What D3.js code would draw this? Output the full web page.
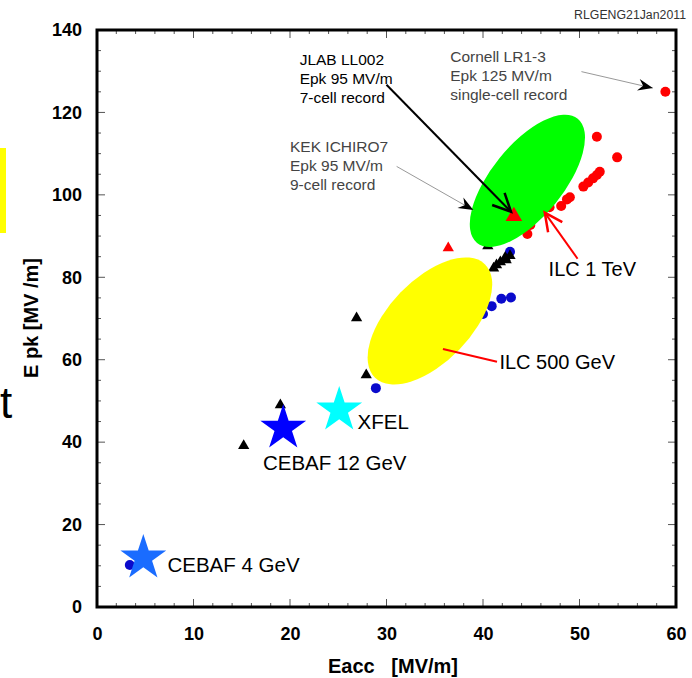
<!DOCTYPE html>
<html>
<head>
<meta charset="utf-8">
<script src="https://cdn.jsdelivr.net/npm/d3@7"></script>
<style>
body { margin: 0; background: #fff; }
text { font-family: "Liberation Sans", Arial, sans-serif; }
</style>
</head>
<body>
<script>
// Data (Eacc, Epk in MV/m)
var redDots = [[58.9, 125], [51.8, 114.1], [53.9, 109.1], [52.1, 105.6], [51.8, 104.8], [51.4, 104],
	[50.9, 103], [50.4, 102], [49.0, 99.4], [48.7, 98.9], [48.1, 97.3], [46.9, 97.0], [44.9, 92.7], [44.6, 90.5]];
var blueDots = [[42.8, 86.2], [42.9, 75.1], [41.9, 74.8], [40.9, 73.0], [40.0, 71.1], [39.0, 69.2],
	[28.9, 53.1], [3.4, 10.2]];
var blackTriangles = [[15.2, 39.1], [19.0, 49.0], [26.9, 70.1], [27.9, 56.3], [40.5, 87.6],
	[41.1, 82.2], [41.4, 83.0], [41.8, 83.7], [42.4, 84.2], [42.3, 84.8], [42.8, 85.2]];
var redTriangles = [[36.4, 87.1]];
var recordTriangle = [[43.2, 94.8]];
var stars = [
	{name: "CEBAF 4 GeV", e: 4.8, epk: 11.9, color: "#1a6cff"},
	{name: "CEBAF 12 GeV", e: 19.3, epk: 43.4, color: "#0000ff"},
	{name: "XFEL", e: 25.1, epk: 47.8, color: "#00ffff"}
];
var targets = [
	{name: "ILC 500 GeV", e: 34.5, epk: 69.4, color: "#ffff00"},
	{name: "ILC 1 TeV", e: 44.6, epk: 103.4, color: "#00ff00"}
];
var xTicks = [0, 10, 20, 30, 40, 50, 60];
var yTicks = [0, 20, 40, 60, 80, 100, 120, 140];

var w = 692, h = 678;

var svg = d3.select("body").
append("svg").
attr("width", w).
attr("height", h);

var x = d3.scaleLinear().domain([0, 60]).range([97, 676]);
var y = d3.scaleLinear().domain([0, 140]).range([607, 30]);

// stray bits at the left edge of the slide
svg.append("rect").attr("x", 0).attr("y", 148).attr("width", 6).attr("height", 85).attr("fill", "#ffff00");
svg.append("text").attr("x", 0).attr("y", 418).text("t").style("font-size", "44px");

svg.append("text").
attr("x", 686).
attr("y", 19).
attr("text-anchor", "end").
attr("fill", "#333").
style("font-size", "12.3px").
text("RLGENG21Jan2011");

// Inward ticks on all four sides
var xMinor = d3.range(0, 60.01, 2);
var yMinor = d3.range(0, 140.01, 5);

var ticks = svg.append("g").attr("stroke", "#555").attr("stroke-width", 1);
xMinor.forEach(function (v) {
	var len = v % 10 === 0 ? 8 : 4;
	ticks.append("line").attr("x1", x(v)).attr("x2", x(v)).attr("y1", y(0)).attr("y2", y(0) - len);
	ticks.append("line").attr("x1", x(v)).attr("x2", x(v)).attr("y1", y(140)).attr("y2", y(140) + len);
});
yMinor.forEach(function (v) {
	var len = v % 20 === 0 ? 8 : 4;
	ticks.append("line").attr("x1", x(0)).attr("x2", x(0) + len).attr("y1", y(v)).attr("y2", y(v));
	ticks.append("line").attr("x1", x(60)).attr("x2", x(60) - len).attr("y1", y(v)).attr("y2", y(v));
});

var xAxis = d3.axisBottom(x).tickValues(xTicks).tickSize(0).tickPadding(20);
var yAxis = d3.axisLeft(y).tickValues(yTicks).tickSize(0).tickPadding(15);

svg.append("g").
attr("id", "x-axis").
attr("transform", "translate(0," + y(0) + ")").
call(xAxis).
call(function (g) {g.select(".domain").remove();}).
selectAll("text").
style("font-size", "18px").
style("font-weight", "bold").
style("font-family", "Liberation Sans, Arial, sans-serif").
attr("fill", "#000");

svg.append("g").
attr("id", "y-axis").
attr("transform", "translate(" + x(0) + ",0)").
call(yAxis).
call(function (g) {g.select(".domain").remove();}).
selectAll("text").
style("font-size", "18px").
style("font-weight", "bold").
style("font-family", "Liberation Sans, Arial, sans-serif").
attr("fill", "#000");

svg.append("rect").
attr("x", x(0)).
attr("y", y(140)).
attr("width", x(60) - x(0)).
attr("height", y(0) - y(140)).
attr("fill", "none").
attr("stroke", "#000").
attr("stroke-width", 3);

// Axis titles
svg.append("text").
attr("x", 393).
attr("y", 673).
attr("text-anchor", "middle").
style("font-size", "20px").
style("font-weight", "bold").
attr("xml:space", "preserve").
text("Eacc   [MV/m]");

svg.append("text").
attr("transform", "translate(38,318) rotate(-90)").
attr("text-anchor", "middle").
style("font-size", "20px").
style("font-weight", "bold").
text("E pk [MV /m]");

// Measured cavities
svg.selectAll(".red-dot").
data(redDots).
enter().
append("circle").
attr("class", "red-dot").
attr("cx", function (d) {return x(d[0]);}).
attr("cy", function (d) {return y(d[1]);}).
attr("r", 5).
attr("fill", "#ff0000");

svg.selectAll(".blue-dot").
data(blueDots).
enter().
append("circle").
attr("class", "blue-dot").
attr("cx", function (d) {return x(d[0]);}).
attr("cy", function (d) {return y(d[1]);}).
attr("r", 5).
attr("fill", "#0a0acc");

var tri = d3.symbol().type(d3.symbolTriangle).size(55);
svg.selectAll(".black-tri").
data(blackTriangles).
enter().
append("path").
attr("class", "black-tri").
attr("d", tri).
attr("transform", function (d) {return "translate(" + x(d[0]) + "," + y(d[1]) + ")";}).
attr("fill", "#000");

svg.selectAll(".red-tri").
data(redTriangles).
enter().
append("path").
attr("class", "red-tri").
attr("d", tri).
attr("transform", function (d) {return "translate(" + x(d[0]) + "," + y(d[1]) + ")";}).
attr("fill", "#ff0000");

// ILC target regions
var ellipseShape = {"ILC 500 GeV": [79, 41, -46], "ILC 1 TeV": [80, 36, -51]};
svg.selectAll(".target").
data(targets).
enter().
append("ellipse").
attr("class", "target").
attr("cx", 0).
attr("cy", 0).
attr("rx", function (d) {return ellipseShape[d.name][0];}).
attr("ry", function (d) {return ellipseShape[d.name][1];}).
attr("transform", function (d) {
	return "translate(" + x(d.e) + "," + y(d.epk) + ") rotate(" + ellipseShape[d.name][2] + ")";}).
attr("fill", function (d) {return d.color;});

svg.selectAll(".record-tri").
data(recordTriangle).
enter().
append("path").
attr("class", "record-tri").
attr("d", d3.symbol().type(d3.symbolTriangle).size(120)).
attr("transform", function (d) {return "translate(" + x(d[0]) + "," + y(d[1]) + ")";}).
attr("fill", "#ff0000");

// Accelerators
var star = d3.symbol().type(d3.symbolStar).size(650);
svg.selectAll(".star").
data(stars).
enter().
append("path").
attr("class", "star").
attr("d", star).
attr("transform", function (d) {return "translate(" + x(d.e) + "," + y(d.epk) + ")";}).
attr("fill", function (d) {return d.color;});

var starLabels = [[7.3, 8.4], [17.2, 33.3], [27.0, 43.3]];
svg.selectAll(".star-label").
data(stars).
enter().
append("text").
attr("class", "star-label").
attr("x", function (d, i) {return x(starLabels[i][0]);}).
attr("y", function (d, i) {return y(starLabels[i][1]);}).
style("font-size", "20.5px").
text(function (d) {return d.name;});

// Annotations
function arrowLine(from, to, color, width, head) {
	var x1 = x(from[0]), y1 = y(from[1]), x2 = x(to[0]), y2 = y(to[1]);
	var a = Math.atan2(y2 - y1, x2 - x1);
	svg.append("line").attr("x1", x1).attr("y1", y1).attr("x2", x2).attr("y2", y2).
	attr("stroke", color).attr("stroke-width", width);
	if (head === "open") {
		var L = 20, s = 0.45;
		svg.append("path").
		attr("d", "M" + (x2 - L * Math.cos(a - s)) + "," + (y2 - L * Math.sin(a - s)) +
			"L" + x2 + "," + y2 +
			"L" + (x2 - L * Math.cos(a + s)) + "," + (y2 - L * Math.sin(a + s))).
		attr("fill", "none").attr("stroke", color).attr("stroke-width", width + 0.5);
	} else if (head === "barb") {
		var L2 = 16, s2 = 0.38, n = 10;
		svg.append("path").
		attr("d", "M" + x2 + "," + y2 +
			"L" + (x2 - L2 * Math.cos(a - s2)) + "," + (y2 - L2 * Math.sin(a - s2)) +
			"L" + (x2 - n * Math.cos(a)) + "," + (y2 - n * Math.sin(a)) +
			"L" + (x2 - L2 * Math.cos(a + s2)) + "," + (y2 - L2 * Math.sin(a + s2)) + "Z").
		attr("fill", "#000");
	}
}

function note(at, lines, color, size) {
	var t = svg.append("text").
	attr("x", x(at[0])).
	attr("y", y(at[1])).
	attr("fill", color).
	style("font-size", size + "px");
	lines.forEach(function (s, i) {
		t.append("tspan").attr("x", x(at[0])).attr("dy", i === 0 ? 0 : "19px").text(s);
	});
}

note([21.0, 131.4], ["JLAB LL002", "Epk 95 MV/m", "7-cell record"], "#000", 15.5);
note([20.0, 110.3], ["KEK ICHIRO7", "Epk 95 MV/m", "9-cell record"], "#444", 15.5);
note([36.6, 132.3], ["Cornell LR1-3", "Epk 125 MV/m", "single-cell record"], "#444", 15.5);

arrowLine([30.0, 126.7], [42.9, 95.9], "#000", 2, "open");
arrowLine([31.05, 106.9], [39.0, 96.3], "#999", 1, "barb");
arrowLine([50.2, 129.9], [57.6, 125.9], "#999", 1, "barb");
arrowLine([49.8, 84.5], [46.4, 95.7], "#ff0000", 2, "open");
arrowLine([35.85, 62.6], [41.45, 59.5], "#ff0000", 2, "none");

note([46.8, 80.2], ["ILC 1 TeV"], "#000", 20);
note([41.7, 57.7], ["ILC 500 GeV"], "#000", 20);
</script>
</body>
</html>
